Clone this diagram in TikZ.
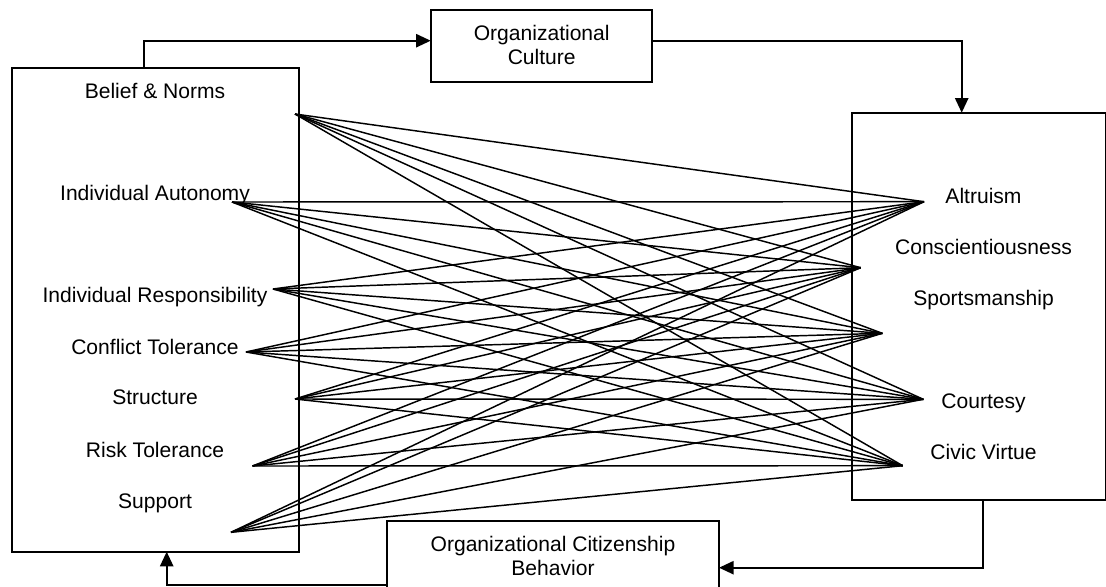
\documentclass[tikz,border=0pt]{standalone}
\usepackage{fontspec}
\setmainfont{Liberation Sans}
\usetikzlibrary{arrows.meta}
\begin{document}
\begin{tikzpicture}[x=0.75pt,y=-0.75pt,
  box/.style={draw,line width=1.25pt,inner sep=0pt,outer sep=0pt,anchor=north west},
  lbl/.style={font=\fontsize{15.8}{18}\selectfont,inner sep=0pt,anchor=base},
  link/.style={line width=1.1pt},
  flow/.style={line width=1.25pt,-{Triangle[length=11pt,width=10pt]}}]
\useasboundingbox (0,0) rectangle (1106,586);
\clip (0,0) rectangle (1106,586);
% boxes
\node[box,minimum width=215.6pt,minimum height=362.55pt] (left) at (11.8,68.3) {};
\node[box,minimum width=165.75pt,minimum height=54pt] (oc) at (430.7,10) {};
\node[box,minimum width=190.5pt,minimum height=290.5pt] (right) at (851.7,112.7) {};
\node[box,minimum width=248.8pt,minimum height=51.75pt] (ocb) at (387.3,521) {};
% box texts
\node[lbl] (t1) at (541.7,40) {Organizational};
\node[lbl] (t2) at (541.7,64) {Culture};
\node[lbl] (t3) at (553,551) {Organizational Citizenship};
\node[lbl] (t4) at (553,575) {Behavior};
% left labels
\node[lbl] (lbn) at (155,98) {Belief \& Norms};
\node[lbl] (lia) at (155,200) {Individual Autonomy};
\node[lbl] (lir) at (155,302) {Individual Responsibility};
\node[lbl] (lct) at (155,354) {Conflict Tolerance};
\node[lbl] (lst) at (155,404) {Structure};
\node[lbl] (lrt) at (155,457) {Risk Tolerance};
\node[lbl] (lsu) at (155,508) {Support};
% right labels
\node[lbl] (ral) at (983.5,203) {Altruism};
\node[lbl] (rco) at (983.5,254) {Conscientiousness};
\node[lbl] (rsp) at (983.5,305) {Sportsmanship};
\node[lbl] (rcu) at (983.5,408) {Courtesy};
\node[lbl] (rcv) at (983.5,459) {Civic Virtue};
% link end points
\coordinate (pbn) at (295,114);
\coordinate (pia) at (232,202);
\coordinate (pir) at (273,289);
\coordinate (pct) at (246,352);
\coordinate (pst) at (295,399);
\coordinate (prt) at (252.5,466);
\coordinate (psu) at (231,532.3);
\coordinate (qal) at (924,201.7);
\coordinate (qco) at (860.7,267.7);
\coordinate (qsp) at (882.3,333.3);
\coordinate (qcu) at (923.3,399.3);
\coordinate (qcv) at (902.7,465.7);
\foreach \a in {bn,ia,ir,ct,st,rt,su}
  \foreach \b in {al,co,sp,cu,cv}
    \draw[link] (p\a) -- (q\b);
% flow connectors
\coordinate (tA) at (144.3,40.7);
\coordinate (tB) at (961.7,40.7);
\coordinate (tC) at (983.3,567.7);
\coordinate (tD) at (166.7,585);
\draw[flow] (left.north -| tA) -- (tA) -- (tA -| oc.west);
\draw[flow] (tA -| oc.east) -- (tB) -- (tB |- right.north);
\draw[flow] (tC |- right.south) -- (tC) -- (tC -| ocb.east);
\draw[flow] (tD -| ocb.west) -- (tD) -- (tD |- left.south);
\end{tikzpicture}
\end{document}
